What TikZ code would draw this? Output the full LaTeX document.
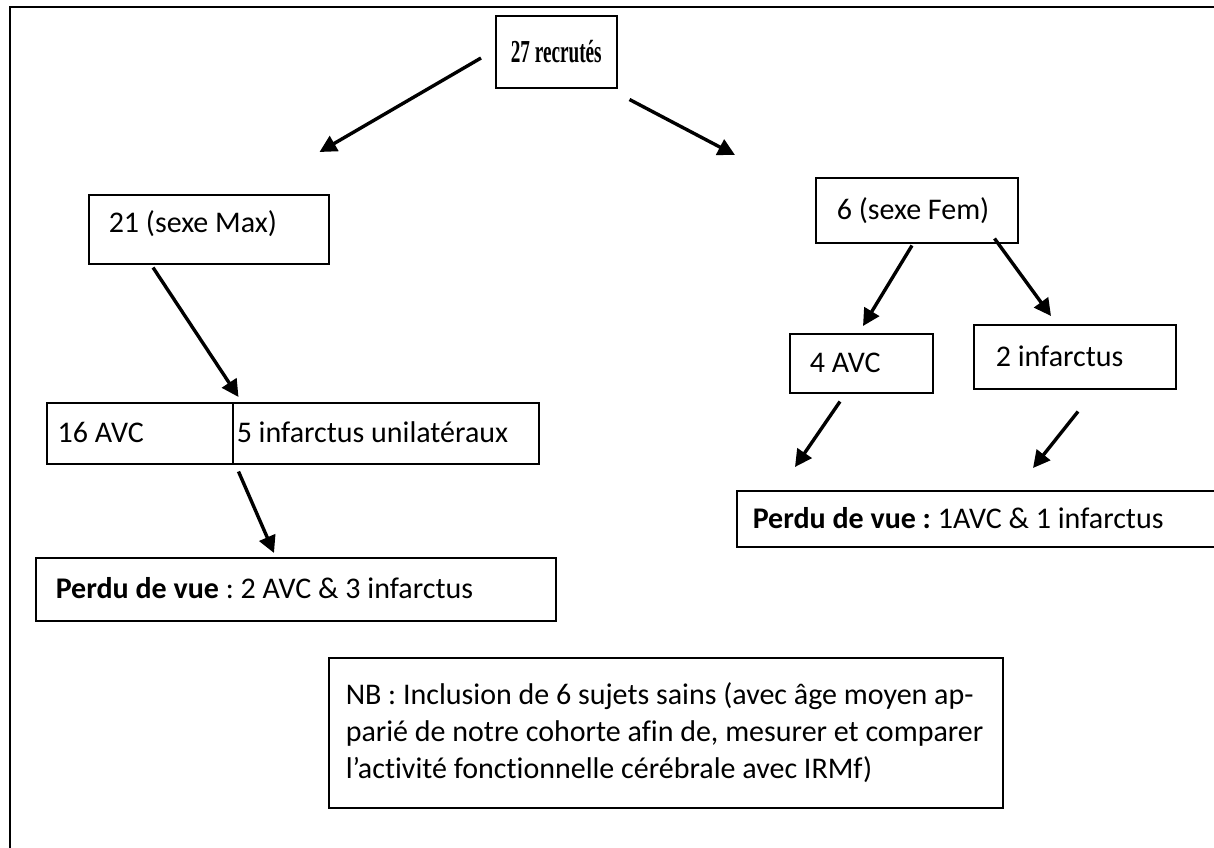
\documentclass[tikz,border=0pt]{standalone}
\usepackage{fontspec}
\usepackage{graphicx}
\setmainfont{Carlito}[Ligatures=NoCommon]
\newfontfamily\timesfont{Liberation Serif}
\usetikzlibrary{arrows.meta,calc}

\tikzset{
  cadre/.style={draw, line width=0.75pt, anchor=north west, inner ysep=0pt, align=left,
    font=\fontsize{15}{18.5}\selectfont,
    execute at begin node={\frenchspacing\spaceskip=0pt\xspaceskip=0pt\hyphenpenalty=10000\relax}},
  boite/.style={cadre, text height=9.7pt, text depth=0pt},
  fleche/.style={line width=1.7pt, -{Triangle[length=8.5pt,width=8.5pt]}},
}

\begin{document}
\begin{tikzpicture}[x=0.5pt,y=-0.5pt]
\useasboundingbox (0,0) rectangle (1214,847);
% cadre de la page
\draw[line width=1.25pt] (10,900) -- (10,7) -- (1260,7);

\node[boite, align=center, minimum width=60.5pt, minimum height=36pt, text width=56pt, inner xsep=2.25pt, text height=10.8pt,
  font=\timesfont\bfseries\fontsize{16}{18}\selectfont] (rec) at (495,15) {\scalebox{0.6}[1]{27 recrutés}};

\node[boite, minimum width=120pt, minimum height=34.5pt, text width=100pt, inner xsep=10pt, text depth=6pt] (masc) at (88,194) {21 (sexe Max)};
\node[boite, minimum width=101pt, minimum height=32.5pt, text width=80pt, inner xsep=10.5pt] (fem) at (815,177) {6 (sexe Fem)};

\node[boite, minimum width=93pt, minimum height=30.5pt, text width=82pt, inner xsep=5.5pt] (avcM) at (46,402) {16 AVC};
\node[boite, minimum width=153pt, minimum height=30.5pt, text width=149pt, inner xsep=2pt] (infM) at (232,402) {5 infarctus unilatéraux};
\node[boite, minimum width=71.5pt, minimum height=29.5pt, text width=51.5pt, inner xsep=10pt] (avcF) at (789,333) {4 AVC};
\node[boite, minimum width=101pt, minimum height=32pt, text width=79pt, inner xsep=11pt] (infF) at (973,324) {2 infarctus};

\node[boite, minimum width=260pt, minimum height=31.5pt, text width=240pt, inner xsep=10pt] (perduM) at (35,557) {\textbf{Perdu de vue} : 2 AVC \& 3 infarctus};
\node[boite, minimum width=245pt, minimum height=28pt, text width=229pt, inner xsep=8pt] (perduF) at (736,490) {\textbf{Perdu de vue :} 1AVC \& 1 infarctus};

\node[cadre, minimum width=337pt, minimum height=75pt, text width=320pt, inner xsep=8.5pt] (nb) at (328,657)
  {NB : Inclusion de 6 sujets sains (avec âge moyen ap-\\parié de notre cohorte afin de, mesurer et comparer\\l’activité fonctionnelle cérébrale avec IRMf)};

% fleches
\draw[fleche] ($(rec.north west)+(-14,43)$) -- ($(masc.north east)+(-10,-42)$);
\draw[fleche] ($(rec.south east)+(12,11)$) -- ($(fem.north west)+(-80,-22)$);
\draw[fleche] ($(masc.south west)+(65,3)$) -- ($(avcM.north east)+(5,-5)$);
\draw[fleche] ($(fem.south west)+(97,2)$) -- ($(avcF.north west)+(74,-7)$);
\draw[fleche] ($(fem.south east)+(-24,-5)$) -- ($(infF.north west)+(78,-8)$);
\draw[fleche] ($(avcF.south west)+(51,8)$) -- ($(perduF.north west)+(59,-23)$);
\draw[fleche] ($(infF.south west)+(105,22)$) -- ($(perduF.north west)+(297,-22)$);
\draw[fleche] ($(avcM.south east)+(5,7)$) -- ($(perduM.north west)+(239,-4)$);
\end{tikzpicture}
\end{document}
